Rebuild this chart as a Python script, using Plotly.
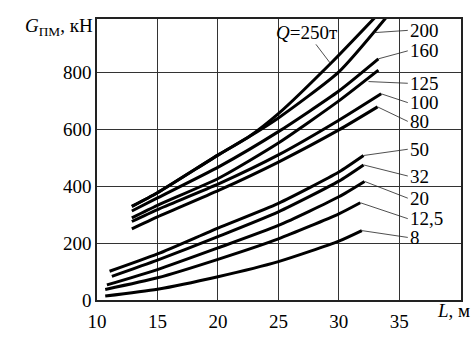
import plotly.graph_objects as go

# ---- data ----
L_250 = [12.88, 15, 20.1, 22.5, 25, 29.4, 33.2]
G_250 = [329, 377, 512, 572, 655, 835, 1003]
L_200 = [12.88, 15, 20.1, 22.5, 25, 30.0, 34.1]
G_200 = [329, 377, 512, 572, 640, 802, 1003]
L_160 = [12.88, 15, 20.1, 25, 30, 33.27]
G_160 = [313, 359, 469, 592, 735, 848]
L_125 = [12.88, 15, 20.1, 25, 30, 33.27]
G_125 = [289, 333, 429, 552, 700, 808]
L_100 = [12.88, 15, 20.1, 25, 30, 33.5]
G_100 = [276, 318, 409, 510, 632, 725]
L_80 = [12.88, 15, 20.1, 25, 30, 33.2]
G_80 = [250, 292, 386, 485, 598, 679]

L_50 = [11.04, 15, 20, 25, 30, 32.04]
G_50 = [101, 162, 253, 340, 450, 508]
L_32 = [11.23, 15, 20, 25, 30, 32.04]
G_32 = [83, 140, 223, 310, 418, 475]
L_20 = [10.82, 15, 20, 25, 30, 32.12]
G_20 = [53, 107, 183, 262, 363, 417]
L_12 = [10.68, 15, 20, 25, 30, 31.77]
G_12 = [37, 78, 143, 215, 303, 342]
L_8 = [10.68, 15, 20, 25, 30, 31.9]
G_8 = [14, 38, 82, 135, 207, 244]

series = [
    ("200", L_200, G_200), ("250", L_250, G_250), ("160", L_160, G_160),
    ("125", L_125, G_125), ("100", L_100, G_100), ("80", L_80, G_80),
    ("50", L_50, G_50), ("32", L_32, G_32), ("20", L_20, G_20),
    ("12,5", L_12, G_12), ("8", L_8, G_8),
]

# label texts, label positions and leader anchor points on the curves
labels = ["200", "160", "125", "100", "80", "50", "32", "20", "12,5", "8"]
label_G = [948, 876, 762, 694, 628, 530, 436, 358, 286, 220]
anchor_L = [32.9, 33.27, 32.45, 33.5, 33.2, 32.04, 32.04, 32.12, 31.77, 31.9]
anchor_G = [940, 848, 768, 725, 679, 508, 475, 417, 342, 244]
label_L = 35.7

x_ticks = [10, 15, 20, 25, 30, 35]
y_ticks = [0, 200, 400, 600, 800]

FONT = "Liberation Serif"
fig = go.Figure()
for name, xs, ys in series:
    fig.add_trace(go.Scatter(x=xs, y=ys, mode="lines", name=name,
                             line=dict(color="black", width=3, shape="spline", smoothing=0.6),
                             showlegend=False, hoverinfo="skip"))

for t, gy, ax_, ay_ in zip(labels, label_G, anchor_L, anchor_G):
    fig.add_annotation(x=ax_, y=ay_, ax=label_L, ay=gy, axref="x", ayref="y",
                       xref="x", yref="y", text=t, showarrow=True, arrowhead=0,
                       arrowwidth=0.8, arrowcolor="#222", xanchor="left", yanchor="middle",
                       font=dict(family=FONT, size=19, color="black"))

fig.add_annotation(x=29.3, y=832, ax=27.35, ay=941, axref="x", ayref="y",
                   xref="x", yref="y", text="<i>Q</i>=250т", showarrow=True, arrowhead=0,
                   arrowwidth=0.8, arrowcolor="#222",
                   font=dict(family=FONT, size=19, color="black"))

fig.add_annotation(x=-0.005, y=0.973, xref="paper", yref="paper", xanchor="right", yanchor="middle",
                   text="<i>G</i><sub>ПМ</sub>, кН", showarrow=False,
                   font=dict(family=FONT, size=19, color="black"))
fig.add_annotation(x=0.929, y=-0.037, xref="paper", yref="paper", xanchor="left", yanchor="middle",
                   text="<i>L</i>, м", showarrow=False,
                   font=dict(family=FONT, size=19, color="black"))

axis_common = dict(showgrid=True, gridcolor="#333", gridwidth=1, showline=True,
                   linecolor="#222", linewidth=1.5, mirror=True, ticks="", zeroline=False,
                   tickfont=dict(family=FONT, size=19, color="black"))
fig.update_xaxes(range=[10, 40.1], tickvals=x_ticks, ticktext=[str(v) for v in x_ticks],
                 ticklabelstandoff=3, **axis_common)
fig.update_yaxes(range=[0, 988], tickvals=y_ticks, ticktext=[str(v) for v in y_ticks], **axis_common)

fig.update_layout(width=473, height=342, margin=dict(l=97, r=10, t=19, b=26),
                  font=dict(family=FONT, size=19, color="black"),
                  plot_bgcolor="white", paper_bgcolor="white")
fig.write_html("out.html")
